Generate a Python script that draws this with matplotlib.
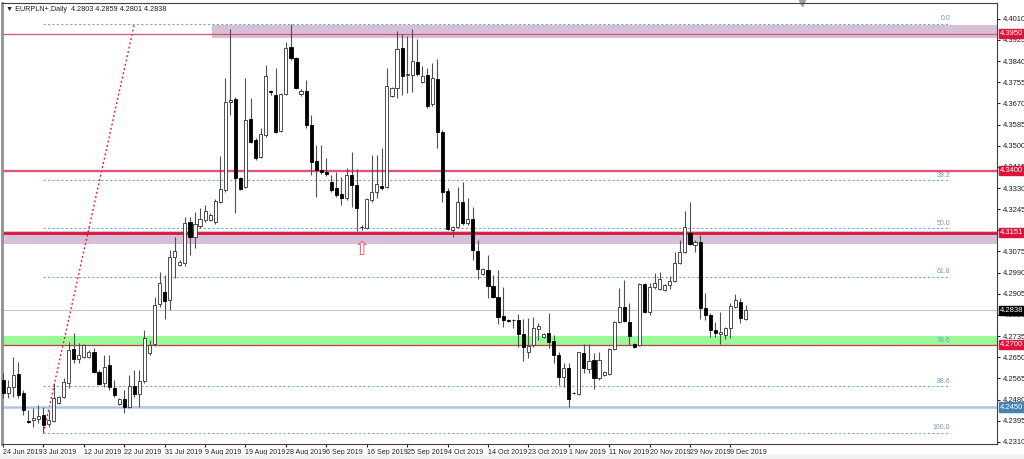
import matplotlib
matplotlib.use("Agg")
import matplotlib.pyplot as plt
import numpy as np

plt.rcParams['font.family'] = ['Liberation Sans', 'DejaVu Sans']

# ---- EURPLN+ daily candles ----
opens = [4.2559, 4.2507, 4.2531, 4.2583, 4.2507, 4.2394, 4.2398, 4.2402, 4.2419, 4.2382,
         4.2394, 4.2467, 4.2491, 4.2547, 4.2684, 4.2644, 4.2652, 4.2652, 4.2672, 4.2591,
         4.2547, 4.2620, 4.2527, 4.2463, 4.2483, 4.2451, 4.2535, 4.2503, 4.2555, 4.2668,
         4.2704, 4.2865, 4.2913, 4.2881, 4.3054, 4.3021, 4.3029, 4.3194, 4.3134, 4.3178,
         4.3202, 4.3202, 4.3194, 4.3275, 4.3323, 4.3676, 4.3689, 4.3371, 4.3335, 4.3608,
         4.3524, 4.3455, 4.3544, 4.3718, 4.3705, 4.3560, 4.3709, 4.3897, 4.3853, 4.3709,
         4.3721, 4.3584, 4.3439, 4.3403, 4.3395, 4.3355, 4.3331, 4.3307, 4.3291, 4.3383,
         4.3343, 4.3175, 4.3170, 4.3283, 4.3315, 4.3339, 4.3335, 4.3701, 4.3733, 4.3894,
         4.3785, 4.3785, 4.3837, 4.3757, 4.3785, 4.3668, 4.3769, 4.3556, 4.3319, 4.3162,
         4.3174, 4.3275, 4.3190, 4.3206, 4.3078, 4.2985, 4.3001, 4.2937, 4.2893, 4.2816,
         4.2800, 4.2800, 4.2800, 4.2744, 4.2672, 4.2700, 4.2764, 4.2732, 4.2748, 4.2716,
         4.2660, 4.2571, 4.2607, 4.2508, 4.2503, 4.2668, 4.2603, 4.2640, 4.2567, 4.2579,
         4.2583, 4.2684, 4.2792, 4.2853, 4.2792, 4.2704, 4.2700, 4.2945, 4.2832, 4.2933,
         4.2925, 4.2921, 4.2941, 4.2957, 4.3029, 4.3074, 4.3150, 4.3102, 4.3114, 4.2849,
         4.2820, 4.2760, 4.2744, 4.2740, 4.2768, 4.2853, 4.2873, 4.2803]
highs = [4.2587, 4.2559, 4.2652, 4.2632, 4.2519, 4.2439, 4.2447, 4.2459, 4.2451, 4.2439,
         4.2547, 4.2495, 4.2567, 4.2712, 4.2748, 4.2708, 4.2704, 4.2680, 4.2688, 4.2599,
         4.2660, 4.2660, 4.2559, 4.2487, 4.2519, 4.2579, 4.2599, 4.2599, 4.2760, 4.2720,
         4.2893, 4.2993, 4.2981, 4.3082, 4.3134, 4.3041, 4.3214, 4.3214, 4.3234, 4.3250,
         4.3263, 4.3230, 4.3287, 4.3459, 4.3773, 4.3970, 4.3697, 4.3375, 4.3773, 4.3693,
         4.3532, 4.3572, 4.3825, 4.3725, 4.3813, 4.3713, 4.3918, 4.3990, 4.3857, 4.3729,
         4.3765, 4.3624, 4.3504, 4.3504, 4.3451, 4.3383, 4.3395, 4.3375, 4.3411, 4.3476,
         4.3407, 4.3182, 4.3291, 4.3463, 4.3463, 4.3492, 4.3813, 4.3737, 4.3962, 4.3950,
         4.3942, 4.3970, 4.3930, 4.3821, 4.3813, 4.3833, 4.3849, 4.3564, 4.3331, 4.3178,
         4.3335, 4.3355, 4.3291, 4.3255, 4.3122, 4.3009, 4.3062, 4.2981, 4.3001, 4.2933,
         4.2804, 4.2804, 4.2824, 4.2804, 4.2808, 4.2812, 4.2788, 4.2748, 4.2828, 4.2740,
         4.2672, 4.2628, 4.2628, 4.2511, 4.2672, 4.2704, 4.2704, 4.2668, 4.2672, 4.2595,
         4.2688, 4.2796, 4.2929, 4.2961, 4.2869, 4.2708, 4.2949, 4.2949, 4.2949, 4.2989,
         4.2993, 4.2945, 4.2977, 4.3074, 4.3122, 4.3238, 4.3275, 4.3122, 4.3142, 4.2909,
         4.2828, 4.2792, 4.2832, 4.2772, 4.2869, 4.2905, 4.2889, 4.2859]
lows = [4.2487, 4.2487, 4.2491, 4.2487, 4.2419, 4.2386, 4.2370, 4.2386, 4.2346, 4.2370,
        4.2390, 4.2463, 4.2487, 4.2527, 4.2628, 4.2628, 4.2648, 4.2648, 4.2587, 4.2539,
        4.2531, 4.2519, 4.2491, 4.2459, 4.2427, 4.2447, 4.2491, 4.2451, 4.2547, 4.2660,
        4.2696, 4.2853, 4.2804, 4.2841, 4.2969, 4.3017, 4.3017, 4.3062, 4.3090, 4.3170,
        4.3194, 4.3198, 4.3186, 4.3271, 4.3315, 4.3624, 4.3230, 4.3323, 4.3331, 4.3512,
        4.3443, 4.3451, 4.3536, 4.3705, 4.3552, 4.3556, 4.3705, 4.3845, 4.3729, 4.3701,
        4.3572, 4.3383, 4.3295, 4.3387, 4.3379, 4.3315, 4.3295, 4.3263, 4.3283, 4.3255,
        4.3158, 4.3162, 4.3166, 4.3275, 4.3291, 4.3323, 4.3331, 4.3697, 4.3693, 4.3705,
        4.3713, 4.3717, 4.3781, 4.3753, 4.3652, 4.3660, 4.3492, 4.3275, 4.3162, 4.3134,
        4.3170, 4.3182, 4.3182, 4.3041, 4.2965, 4.2981, 4.2889, 4.2889, 4.2784, 4.2772,
        4.2792, 4.2768, 4.2692, 4.2636, 4.2648, 4.2692, 4.2720, 4.2728, 4.2688, 4.2628,
        4.2539, 4.2531, 4.2451, 4.2503, 4.2499, 4.2587, 4.2587, 4.2523, 4.2559, 4.2575,
        4.2579, 4.2680, 4.2788, 4.2792, 4.2700, 4.2688, 4.2696, 4.2828, 4.2820, 4.2925,
        4.2921, 4.2917, 4.2925, 4.2953, 4.3025, 4.3070, 4.3102, 4.3074, 4.2804, 4.2800,
        4.2732, 4.2732, 4.2704, 4.2724, 4.2728, 4.2849, 4.2788, 4.2801]
closes = [4.2507, 4.2531, 4.2579, 4.2499, 4.2439, 4.2390, 4.2406, 4.2414, 4.2378, 4.2398,
          4.2487, 4.2491, 4.2551, 4.2680, 4.2644, 4.2660, 4.2700, 4.2672, 4.2591, 4.2543,
          4.2611, 4.2531, 4.2499, 4.2483, 4.2451, 4.2535, 4.2503, 4.2555, 4.2728, 4.2700,
          4.2861, 4.2949, 4.2877, 4.3054, 4.3078, 4.3033, 4.3190, 4.3134, 4.3186, 4.3206,
          4.3238, 4.3222, 4.3279, 4.3327, 4.3676, 4.3685, 4.3371, 4.3327, 4.3604, 4.3516,
          4.3451, 4.3548, 4.3781, 4.3716, 4.3556, 4.3709, 4.3894, 4.3853, 4.3733, 4.3721,
          4.3584, 4.3435, 4.3403, 4.3395, 4.3387, 4.3323, 4.3303, 4.3291, 4.3383, 4.3343,
          4.3250, 4.3173, 4.3287, 4.3315, 4.3347, 4.3331, 4.3741, 4.3733, 4.3890, 4.3781,
          4.3787, 4.3841, 4.3789, 4.3781, 4.3660, 4.3773, 4.3556, 4.3315, 4.3166, 4.3174,
          4.3275, 4.3190, 4.3206, 4.3082, 4.3005, 4.3005, 4.2937, 4.2893, 4.2812, 4.2800,
          4.2796, 4.2799, 4.2744, 4.2692, 4.2696, 4.2768, 4.2776, 4.2744, 4.2712, 4.2660,
          4.2571, 4.2607, 4.2483, 4.2506, 4.2672, 4.2607, 4.2636, 4.2567, 4.2640, 4.2591,
          4.2684, 4.2792, 4.2853, 4.2796, 4.2736, 4.2692, 4.2945, 4.2832, 4.2933, 4.2949,
          4.2965, 4.2941, 4.2957, 4.3029, 4.3074, 4.3174, 4.3106, 4.3114, 4.2849, 4.2820,
          4.2760, 4.2748, 4.2752, 4.2768, 4.2857, 4.2881, 4.2808, 4.2838]

date_labels = ['24 Jun 2019', '3 Jul 2019', '12 Jul 2019', '22 Jul 2019', '31 Jul 2019',
               '9 Aug 2019', '19 Aug 2019', '28 Aug 2019', '6 Sep 2019', '16 Sep 2019',
               '25 Sep 2019', '4 Oct 2019', '14 Oct 2019', '23 Oct 2019', '1 Nov 2019',
               '11 Nov 2019', '20 Nov 2019', '29 Nov 2019', '9 Dec 2019']
bars_per_label = 8

price_ticks = [4.4010, 4.3925, 4.3840, 4.3755, 4.3670, 4.3585, 4.3500, 4.3415, 4.3330,
               4.3245, 4.3160, 4.3075, 4.2990, 4.2905, 4.2820, 4.2735, 4.2650, 4.2565,
               4.2480, 4.2395, 4.2310]

# drawn levels / zones
red_levels = [4.3950, 4.3400, 4.3151, 4.2700]
support_level = 4.2450
purple_zones = [(4.3934, 4.3986), (4.3106, 4.3159)]
green_zone = (4.2700, 4.2736)
fib_low, fib_high = 4.2346, 4.3990
fib_low_bar, fib_high_bar = 8, 26
fib_ratios = [0.0, 38.2, 50.0, 61.8, 78.6, 88.6, 100.0]
arrow_bar, arrow_price = 71, 4.3120

o = np.array(opens); h = np.array(highs); l = np.array(lows); c = np.array(closes)
x = np.arange(len(o))
last = c[-1]

fig = plt.figure(figsize=(10.24, 4.59), dpi=100)
fig.patches.append(plt.Rectangle((0, 0), 1, 0.009, transform=fig.transFigure,
                                 color='#F0F0F0', zorder=0))
ax = fig.add_axes([0.002, 0.033, 0.9717, 0.9608])
ax.set_xlim(-0.2, 196.8)
ax.set_ylim(4.2302, 4.4074)

# zones
ax.axhspan(purple_zones[0][0], purple_zones[0][1], xmin=(41.4 + 0.2) / 197, color='#D8BFD8', zorder=1, lw=0)
ax.axhspan(purple_zones[1][0], purple_zones[1][1], color='#D8BFD8', zorder=1, lw=0)
ax.axhspan(green_zone[0], green_zone[1], color='#98FB98', zorder=1, lw=0)

# fibonacci retracement
for r in fib_ratios:
    lvl = fib_high - (fib_high - fib_low) * r / 100
    ax.plot([fib_low_bar, 187.5], [lvl, lvl], color='#7AA6D2', lw=0.8,
            ls=(0, (2, 2)), zorder=2)
    ax.text(187.5, lvl + 0.0006, f'{r:.1f}', fontsize=5, color='#6A9AC8',
            ha='right', va='bottom', zorder=2)
ax.plot([fib_low_bar, fib_high_bar], [fib_low, fib_high], color='red', lw=0.9,
        ls=(0, (1.5, 2)), zorder=2)

# horizontal lines
ax.axhline(red_levels[0], color='#D8506C', lw=0.9, zorder=2)
ax.axhline(red_levels[1], color='#E05474', lw=1.7, zorder=2)
ax.axhline(red_levels[2], color='#DC143C', lw=2.0, zorder=2)
ax.axhline(red_levels[3], color='#C83848', lw=0.9, zorder=2)
ax.axhline(support_level, color='#B0C4DE', lw=1.8, zorder=2)
ax.axhline(last, color='#C8C8C8', lw=0.8, zorder=2)

# candles
up = c >= o
ax.vlines(x, l, h, color='#505050', lw=0.8, zorder=3)
body_lo = np.minimum(o, c)
body_h = np.maximum(np.abs(c - o), 0.00005)
ax.bar(x[up], body_h[up], bottom=body_lo[up], width=0.62, color='white',
       edgecolor='#303030', lw=0.6, zorder=4)
ax.bar(x[~up], body_h[~up], bottom=body_lo[~up], width=0.62, color='black',
       edgecolor='black', lw=0.6, zorder=4)

# arrow marker
ax.text(arrow_bar, arrow_price, '\u21e7', color='#F06070', fontsize=14,
        family='DejaVu Sans', ha='center', va='top', zorder=5)

# axes styling
for s in ['top', 'right', 'left', 'bottom']:
    ax.spines[s].set_color('#404040')
    ax.spines[s].set_linewidth(0.8)
ax.spines['left'].set_color('#909090')
ax.spines['left'].set_linewidth(2)

ax.yaxis.tick_right()
ax.set_yticks(price_ticks)
ax.set_yticklabels([f'{v:.4f}' for v in price_ticks])
ax.tick_params(axis='y', labelsize=5.5, length=2.5, pad=1.5, colors='#202020')

tick_pos = np.arange(len(date_labels)) * bars_per_label
ax.set_xticks(tick_pos)
ax.set_xticklabels(date_labels)
ax.tick_params(axis='x', labelsize=5.1, length=2.5, pad=1.5, colors='#202020')
for t in ax.get_xticklabels():
    t.set_horizontalalignment('left')

# price label boxes on the right scale
tr = ax.get_yaxis_transform()
boxes = [(red_levels[0], '#DC143C'), (red_levels[1], '#DC143C'),
         (red_levels[2], '#DC143C'), (red_levels[3], '#DC143C'),
         (support_level, '#4682B4'), (last, 'black')]
for val, col in boxes:
    ax.text(1.003, val, f'{val:.4f}', transform=tr, fontsize=5.5, color='white',
            ha='left', va='center', zorder=10, clip_on=False,
            bbox=dict(boxstyle='square,pad=0.15', fc=col, ec=col))

# header
ax.text(0.004, 0.993, '\u25bc EURPLN+,Daily  4.2803 4.2859 4.2801 4.2838',
        transform=ax.transAxes, fontsize=5.2, color='#202020', ha='left', va='top',
        family=['Liberation Sans', 'DejaVu Sans'])
ax.plot([0.804], [1.0], marker='v', color='#A0A0A0', markersize=4,
        transform=ax.transAxes, clip_on=False)

fig.savefig('out.png', dpi=100)
